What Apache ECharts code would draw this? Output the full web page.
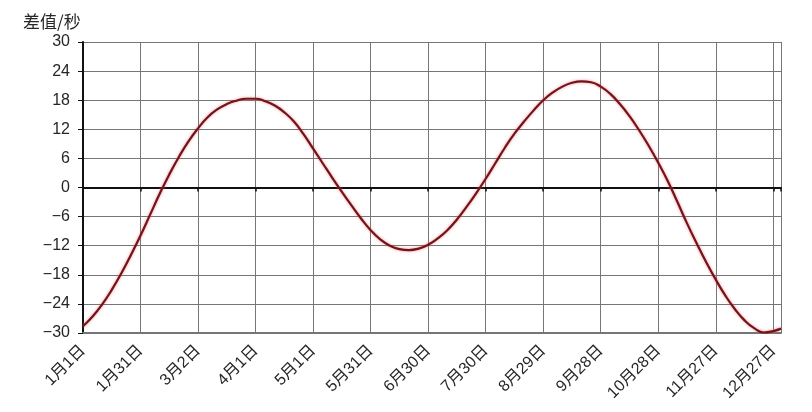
<!DOCTYPE html>
<html>
<head>
<meta charset="utf-8">
<script src="https://cdn.jsdelivr.net/npm/echarts@6/dist/echarts.min.js"></script>
<style>
html,body{margin:0;padding:0;background:#fff;}
#c{width:812px;height:412px;}
</style>
</head>
<body>
<div id="c"></div>
<script>
// Tick labels (every 30 days)
var xLabels = ['1月1日','1月31日','3月2日','4月1日','5月1日','5月31日','6月30日','7月30日','8月29日','9月28日','10月28日','11月27日','12月27日'];
// Day of year (0 = Jan 1), sampled every 5 days
var days = [0,5,10,15,20,25,30,35,40,45,50,55,60,65,70,75,80,85,90,95,100,105,110,115,120,125,130,135,140,145,150,155,160,165,170,175,180,185,190,195,200,205,210,215,220,225,230,235,240,245,250,255,260,265,270,275,280,285,290,295,300,305,310,315,320,325,330,335,340,345,350,355,360,364];
// Difference in seconds
var diffs = [-28.6,-26.6,-24.1,-21.1,-17.7,-13.9,-9.9,-5.6,-1.3,2.7,6.3,9.5,12.2,14.5,16.1,17.2,17.9,18.3,18.3,17.8,16.9,15.5,13.6,11.0,8.0,5.0,2.0,-0.9,-3.7,-6.4,-8.8,-10.7,-12.0,-12.7,-12.9,-12.6,-11.8,-10.5,-8.8,-6.6,-4.0,-1.2,1.8,5.0,8.2,11.1,13.6,15.9,18.0,19.6,20.8,21.6,21.9,21.7,20.8,19.3,17.2,14.7,11.8,8.6,5.1,1.3,-3.0,-7.4,-11.5,-15.4,-19.0,-22.3,-25.1,-27.4,-29.0,-29.9,-29.6,-29.1];

var data = days.map(function(d, i){ return [d, diffs[i]]; });

var chart = echarts.init(document.getElementById('c'), null, {renderer:'canvas'});
var textColor = '#262626';
var gridColor = '#767676';
chart.setOption({
  animation: false,
  backgroundColor: '#fff',
  title: {
    text: '差值/秒',
    left: 18, top: 8,
    textStyle: {fontFamily: '"Noto Sans CJK SC", sans-serif', fontSize: 17, fontWeight: 'normal', color: textColor}
  },
  grid: {left: 83, right: 31, top: 42, bottom: 79},
  xAxis: [{
    type: 'value',
    min: 0, max: 364, interval: 30,
    axisLine: {onZero: false, show: true, lineStyle: {color: gridColor, width: 2}},
    axisTick: {show: false},
    splitLine: {show: true, lineStyle: {color: gridColor, width: 1}},
    axisLabel: {
      rotate: 45, margin: 15,
      fontFamily: '"Liberation Sans", Arial, "Noto Sans CJK SC", sans-serif',
      fontSize: 16, color: textColor,
      showMaxLabel: true,
      formatter: function(v){ return (v % 30 === 0) ? xLabels[v / 30] : ''; }
    }
  }, {
    type: 'value',
    position: 'bottom',
    min: 0, max: 364, interval: 30,
    axisLine: {onZero: true, show: true, lineStyle: {color: '#111', width: 2}},
    axisTick: {show: true, length: 4, lineStyle: {color: '#111', width: 1.5}},
    splitLine: {show: false},
    axisLabel: {show: false}
  }],
  yAxis: {
    type: 'value',
    min: -30, max: 30, interval: 6,
    axisLine: {show: true, onZero: false, lineStyle: {color: '#111', width: 2}},
    axisTick: {show: true, length: 5, lineStyle: {color: '#111'}},
    splitLine: {show: true, lineStyle: {color: gridColor, width: 1}},
    axisLabel: {
      margin: 13,
      fontFamily: '"Liberation Sans", Arial, sans-serif',
      fontSize: 16, color: textColor,
      formatter: function(v){ return v < 0 ? '\u2212' + (-v) : String(v); }
    }
  },
  series: [{
    type: 'line',
    xAxisIndex: 0,
    data: data,
    smooth: 0.5,
    symbol: 'none',
    lineStyle: {color: '#731419', width: 2.2, shadowColor: 'rgba(230,90,100,0.7)', shadowBlur: 3}
  }]
});
</script>
</body>
</html>
